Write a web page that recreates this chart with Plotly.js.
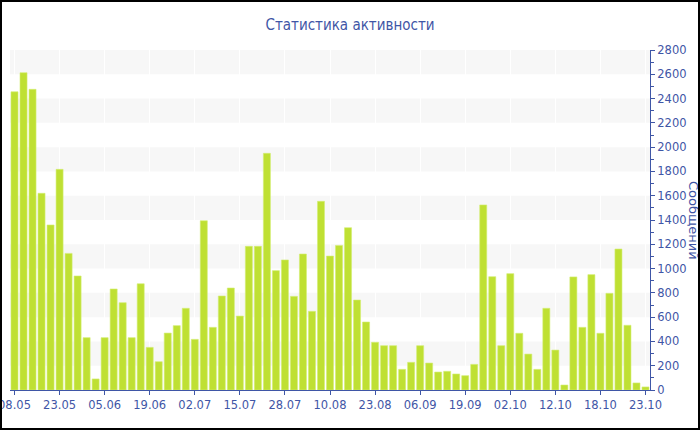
<!DOCTYPE html>
<html>
<head>
<meta charset="utf-8">
<script src="https://cdn.plot.ly/plotly-3.0.1.min.js"></script>
<style>
html,body{margin:0;padding:0;background:#fff;}
#wrap{position:relative;width:700px;height:430px;overflow:hidden;}
#chart{width:700px;height:430px;}
#frame{position:absolute;left:0;top:0;width:700px;height:430px;box-sizing:border-box;border:2px solid #000;pointer-events:none;}
</style>
</head>
<body>
<div id="wrap"><div id="chart"></div><div id="frame"></div></div>
<script>
// Messages per period (71 bars)
const messages = [
  2456, 2613, 2476, 1620, 1359, 1817, 1125, 939, 431, 91,
  431, 832, 719, 431, 875, 351, 233, 469, 530, 673,
  417, 1394, 516, 774, 840, 609, 1183, 1183, 1949, 983,
  1071, 771, 1120, 648, 1554, 1103, 1191, 1337, 741, 560,
  393, 365, 365, 170, 228, 365, 222, 148, 154, 132,
  118, 211, 1524, 933, 365, 958, 467, 296, 170, 673,
  329, 41, 931, 516, 950, 467, 796, 1161, 533, 58,
  25
];
// Tick labels shown every 5th bar
const tickLabels = ["08.05","23.05","05.06","19.06","02.07","15.07","28.07","10.08","23.08","06.09","19.09","02.10","12.10","18.10","23.10"];
const tickStep = 5;
const yTicks = [0,200,400,600,800,1000,1200,1400,1600,1800,2000,2200,2400,2600,2800];

const xIdx = messages.map((v,i)=>i);
const tickVals = tickLabels.map((t,i)=>i*tickStep);

const blue = '#3f56a6';
const font = 'DejaVu Sans, Verdana, sans-serif';
const titleFont = 'DejaVu Sans Condensed, DejaVu Sans, sans-serif';

const bands = [];
for (let i = 1; i + 1 < yTicks.length; i += 2) {
  bands.push({type:'rect', xref:'paper', yref:'y', x0:0, x1:1, y0:yTicks[i], y1:yTicks[i+1],
    fillcolor:'#f7f7f7', line:{width:0}, layer:'below'});
}

const trace = {
  type:'bar', x:xIdx, y:messages,
  marker:{color:'#bfe033', line:{color:'#d3ee74', width:0.6}},
  hoverinfo:'y'
};

const layout = {
  width:700, height:430,
  margin:{l:10, r:50, t:50, b:40},
  paper_bgcolor:'#fff', plot_bgcolor:'#fff',
  bargap:0.22,
  showlegend:false,
  title:{text:'Статистика активности', x:0.5, xref:'container', xanchor:'center',
    y:0.942, yref:'container', yanchor:'middle',
    font:{family:titleFont, size:15, color:blue}},
  font:{family:font, color:blue},
  xaxis:{
    range:[-0.5, messages.length-0.5],
    tickmode:'array', tickvals:tickVals, ticktext:tickLabels,
    showline:true, linecolor:blue, linewidth:1,
    ticks:'outside', ticklen:4, tickcolor:blue,
    showgrid:true, gridcolor:'#ffffff', gridwidth:1,
    tickfont:{family:font, size:11.5, color:blue},
    ticklabeloverflow:'allow',
    zeroline:false, fixedrange:true
  },
  yaxis:{
    side:'right', range:[0,2800],
    tickmode:'array', tickvals:yTicks,
    showline:true, linecolor:blue, linewidth:1,
    ticks:'outside', ticklen:4, tickcolor:blue,
    minor:{ticks:'outside', ticklen:3, tickcolor:blue, dtick:100, showgrid:false},
    showgrid:false, zeroline:false,
    tickfont:{family:font, size:11.5, color:blue},
    fixedrange:true
  },
  shapes:bands,
  annotations:[{
    text:'Сообщений', xref:'paper', yref:'paper', x:1, y:0.5,
    xshift:44, textangle:90, showarrow:false, xanchor:'center', yanchor:'middle',
    font:{family:font, size:13, color:blue}
  }]
};

Plotly.newPlot('chart', [trace], layout, {displayModeBar:false, staticPlot:true});
</script>
</body>
</html>
